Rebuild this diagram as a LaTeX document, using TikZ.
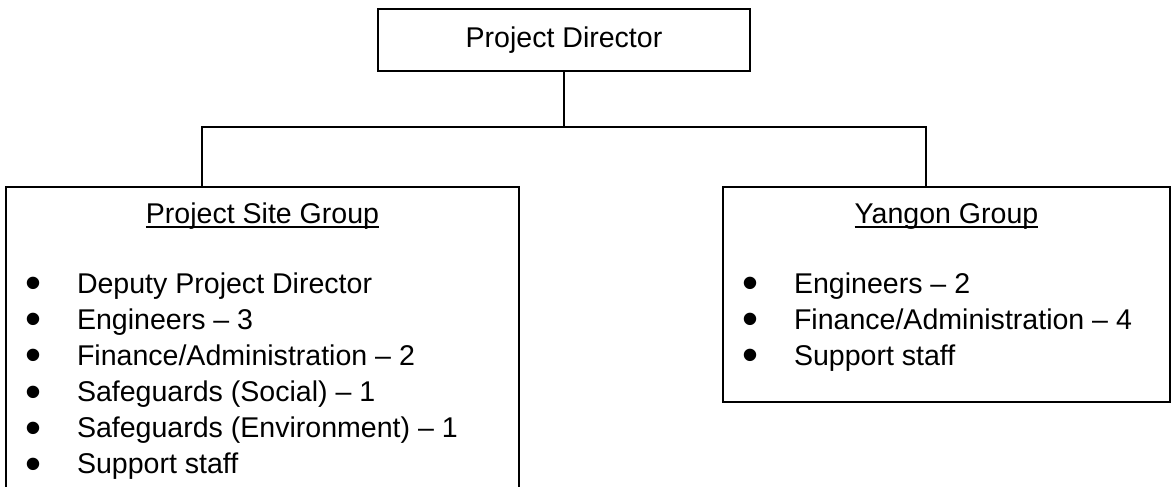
\documentclass[tikz,border=0pt]{standalone}
\usepackage{fontspec}
\setmainfont{Liberation Sans}
\newcommand\grp[1]{\setbox0\hbox{#1}\rlap{\rule[-0.18em]{\wd0}{0.07em}}\box0}
\newcommand\bitem[1]{\makebox[0pt]{\smash{\raisebox{-0.21em}{\scalebox{1.6}{\textbullet}}}}\hspace{1.51em}#1}
\begin{document}
\begin{tikzpicture}[x=0.025cm, y=-0.025cm, line width=1.3pt,
  font=\fontsize{20.3pt}{25pt}\selectfont,
  box/.style={draw, inner sep=0pt},
  lab/.style={inner sep=0pt, anchor=base west},
  head/.style={inner sep=0pt, anchor=base}]
  \useasboundingbox (0,0) rectangle (1172,487);
  \node[box, minimum width=9.3cm, minimum height=1.55cm] (director) at (564,40) {Project Director};
  \node[box, minimum width=12.825cm, minimum height=8cm] (site) at (262.5,347) {};
  \node[box, minimum width=11.175cm, minimum height=5.375cm] (yangon) at (946.5,294.5) {};
  \coordinate (split) at (564,127);
  \coordinate (siteTop) at (202,187);
  \coordinate (yangonTop) at (926,187);
  \draw (director) -- (split);
  \draw (siteTop) |- (split) -| (yangonTop);
  \node[head] (siteHead) at (262.5,223) {\grp{Project Site Group}};
  \node[head] (yangonHead) at (946.5,223) {\grp{Yangon Group}};
  \node[lab] (site1) at (33,293) {\bitem{Deputy Project Director}};
  \node[lab] (site2) at (33,329) {\bitem{Engineers -- 3}};
  \node[lab] (site3) at (33,365) {\bitem{Finance/Administration -- 2}};
  \node[lab] (site4) at (33,401) {\bitem{Safeguards (Social) -- 1}};
  \node[lab] (site5) at (33,437) {\bitem{Safeguards (Environment) -- 1}};
  \node[lab] (site6) at (33,473) {\bitem{Support staff}};
  \node[lab] (yangon1) at (750,293) {\bitem{Engineers -- 2}};
  \node[lab] (yangon2) at (750,329) {\bitem{Finance/Administration -- 4}};
  \node[lab] (yangon3) at (750,365) {\bitem{Support staff}};
\end{tikzpicture}
\end{document}
